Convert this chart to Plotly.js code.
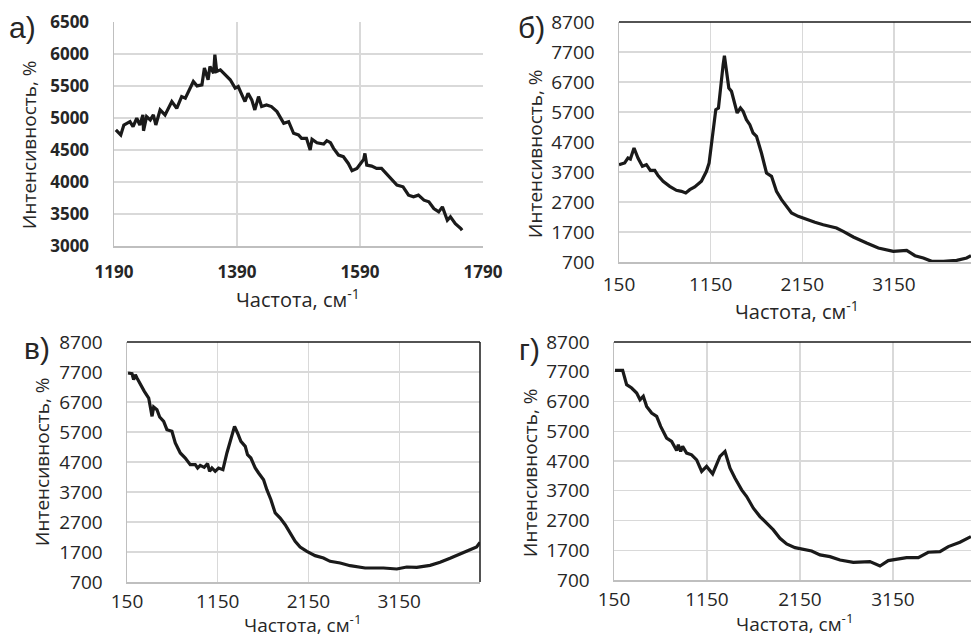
<!DOCTYPE html>
<html><head><meta charset="utf-8">
<script src="https://cdn.plot.ly/plotly-3.0.1.min.js"></script>
<style>body{margin:0;background:#fff}#c{width:971px;height:636px}</style>
</head><body><div id="c"></div>
<script>
// Panel а
const xA = [1193,1201,1206,1216,1221,1227,1232,1237,1238,1243,1249,1254,1258,1265,1273,1284,1292,1300,1306,1314,1319,1325,1333,1337,1343,1346,1352,1354,1357,1363,1371,1379,1387,1392,1398,1403,1408,1414,1419,1425,1430,1438,1446,1455,1466,1474,1482,1490,1495,1503,1509,1512,1520,1531,1536,1542,1547,1555,1563,1571,1577,1585,1591,1596,1598,1601,1609,1617,1625,1633,1641,1650,1660,1669,1677,1685,1694,1702,1710,1718,1724,1732,1737,1745,1754,1756];
const yA = [4813,4735,4891,4943,4865,4996,4891,5048,4800,5022,4970,5048,4891,5126,5048,5257,5152,5335,5309,5466,5570,5502,5518,5780,5597,5805,5701,5989,5727,5753,5675,5597,5466,5492,5361,5257,5387,5283,5126,5335,5179,5205,5179,5100,4917,4943,4761,4735,4682,4682,4500,4667,4614,4594,4646,4614,4526,4421,4395,4290,4176,4212,4290,4353,4447,4264,4248,4212,4212,4134,4055,3951,3925,3794,3768,3794,3716,3690,3585,3533,3611,3402,3455,3350,3272,3246];
// Panel б
const xB = [150,212,248,274,314,357,405,449,492,540,576,631,703,776,831,878,922,976,1049,1104,1133,1169,1206,1235,1260,1286,1300,1322,1348,1377,1413,1439,1475,1504,1540,1577,1613,1650,1704,1759,1814,1868,1923,1977,2032,2105,2196,2287,2378,2523,2596,2706,2851,2979,3142,3288,3379,3470,3561,3689,3834,3943,3990];
const yB = [3944,4000,4167,4133,4500,4167,3889,3944,3756,3756,3578,3389,3222,3089,3056,3000,3111,3200,3389,3722,4000,4889,5778,5833,6667,7278,7578,7000,6500,6389,6000,5667,5833,5722,5444,5278,5000,4889,4333,3667,3556,3056,2778,2556,2333,2222,2111,2022,1944,1833,1722,1533,1333,1167,1056,1089,911,833,722,722,756,833,911];
// Panel в
const xV = [161,205,223,242,260,297,341,389,414,426,444,480,510,554,590,645,682,737,792,847,902,928,957,1001,1038,1060,1086,1122,1159,1207,1251,1306,1335,1368,1405,1453,1478,1515,1563,1600,1655,1691,1736,1783,1838,1893,1948,2003,2058,2132,2223,2315,2388,2499,2609,2774,2976,3123,3233,3343,3490,3600,3710,3820,3930,4003,4040];
const yV = [7667,7644,7444,7611,7500,7278,7056,6833,6500,6222,6533,6444,6200,6056,5778,5722,5333,5000,4833,4611,4611,4500,4589,4522,4644,4389,4500,4389,4500,4444,5000,5556,5889,5667,5389,5222,4944,4833,4500,4333,4111,3778,3444,3000,2833,2611,2333,2056,1867,1722,1578,1500,1389,1333,1244,1167,1167,1133,1200,1189,1256,1356,1489,1644,1778,1867,2022];
// Panel г
const xG = [161,243,286,340,394,430,465,501,555,609,652,716,770,824,842,867,888,931,985,1039,1093,1146,1211,1290,1344,1398,1452,1523,1577,1649,1720,1792,1864,1935,2007,2097,2186,2276,2366,2473,2581,2724,2903,3011,3100,3190,3297,3423,3530,3656,3746,3871,3989];
const yG = [7748,7748,7266,7153,6985,6761,6873,6536,6312,6201,5863,5470,5358,5055,5246,5021,5190,4965,4909,4740,4348,4516,4269,4853,5021,4460,4123,3730,3506,3113,2832,2608,2383,2103,1912,1789,1733,1676,1542,1486,1373,1295,1317,1171,1351,1396,1452,1452,1632,1654,1822,1968,2159];

const ticksA_x = [1190,1390,1590,1790];
const ticksA_y = [3000,3500,4000,4500,5000,5500,6000,6500];
const ticksB_x = [150,1150,2150,3150];
const ticksB_y = [700,1700,2700,3700,4700,5700,6700,7700,8700];
const panelLabels = ['а)','б)','в)','г)'];
const xTitle = 'Частота, см<sup>-1</sup>';
const yTitle = 'Интенсивность, %';

const W = 971, H = 636;
const FONT = 'Open Sans, sans-serif';
const line = {color:'#1a1a1a', width:3.2};
const traces = [
  {x:xA, y:yA, xaxis:'x', yaxis:'y', mode:'lines', line},
  {x:xB, y:yB, xaxis:'x2', yaxis:'y2', mode:'lines', line},
  {x:xV, y:yV, xaxis:'x3', yaxis:'y3', mode:'lines', line},
  {x:xG, y:yG, xaxis:'x4', yaxis:'y4', mode:'lines', line}
];
function px(a,b){return [a/W,b/W];}
function py(top,bot){return [1-bot/H,1-top/H];}
function ax(domain, range, tickvals, anchor, bold, standoff){
  return {domain, range, tickvals, anchor, showgrid:true, gridcolor:'#d9d9d9', gridwidth:1.3,
    zeroline:false, showline:true, linecolor:'#bfbfbf', linewidth:1.5, ticks:'',
    ticklabelstandoff:standoff,
    tickfont:{family:FONT, size: bold?17:19, color:'#262626', weight: bold?'bold':'normal'}, fixedrange:true};
}
const layout = {
  width:W, height:H, margin:{l:0,r:0,t:0,b:0}, showlegend:false,
  paper_bgcolor:'#fff', plot_bgcolor:'#fff',
  xaxis: ax(px(114,483),[1190,1790],ticksA_x,'y',true,10),
  yaxis: ax(py(22,246),[3000,6500],ticksA_y,'x',true,20),
  xaxis2: ax(px(619,971),[150,3990],ticksB_x,'y2',false,5),
  yaxis2: ax(py(22,262),[700,8700],ticksB_y,'x2',false,19),
  xaxis3: ax(px(127,480),[150,4040],ticksB_x,'y3',false,2),
  yaxis3: ax(py(342,582),[700,8700],ticksB_y,'x3',false,19),
  xaxis4: ax(px(614,971),[150,3990],ticksB_x,'y4',false,2),
  yaxis4: ax(py(342,580),[700,8700],ticksB_y,'x4',false,19),
  shapes: [
    {type:'line', xref:'paper', yref:'paper', x0:619/W, x1:1, y0:1-22/H, y1:1-22/H, line:{color:'#1a1a1a', width:1.5}},
    {type:'line', xref:'paper', yref:'paper', x0:127/W, x1:480/W, y0:1-342/H, y1:1-342/H, line:{color:'#1a1a1a', width:1.5}},
    {type:'line', xref:'paper', yref:'paper', x0:480/W, x1:480/W, y0:1-582/H, y1:1-342/H, line:{color:'#1a1a1a', width:1.5}},
    {type:'line', xref:'paper', yref:'paper', x0:614/W, x1:1, y0:1-342/H, y1:1-342/H, line:{color:'#1a1a1a', width:1.5}}
  ],
  annotations: []
};
const ann = layout.annotations;
function A(text,x,y,size,angle,fam){ann.push({text, x:x/W, y:1-y/H, xref:'paper', yref:'paper', showarrow:false,
  xanchor:'center', yanchor:'middle', textangle:angle||0, font:{family:fam||FONT, size, color:'#262626'}});}
// x titles
A(xTitle,298,299,20); A(xTitle,797,310,20); A(xTitle,303,624,19); A(xTitle,795,623,19);
// y titles
A(yTitle,29,145,19,-90); A(yTitle,535,154,19,-90); A(yTitle,42,462,19,-90); A(yTitle,530,473,19,-90);
// panel labels
const LF = 'Liberation Sans, Arial, sans-serif';
A(panelLabels[0],22,28,30,0,LF); A(panelLabels[1],531,28,30,0,LF); A(panelLabels[2],37,348,30,0,LF); A(panelLabels[3],529,349,30,0,LF);
Plotly.newPlot('c', traces, layout, {staticPlot:true});
</script></body></html>
